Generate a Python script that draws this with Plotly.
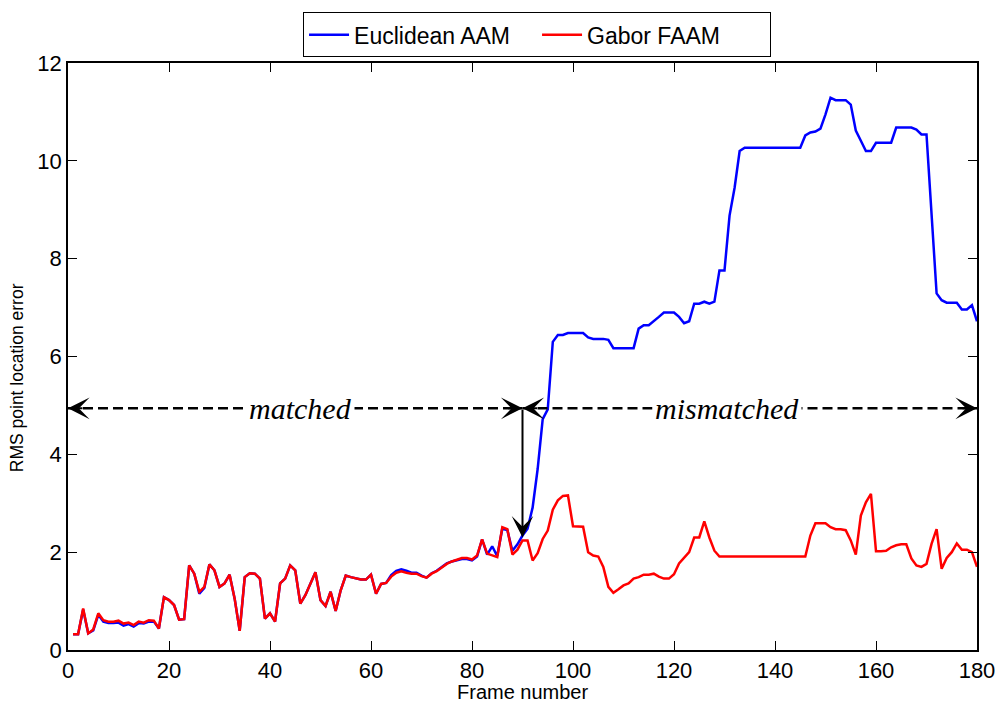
import plotly.graph_objects as go

# Frame indices
frames = list(range(1, 181))

# RMS point location error per frame
euclidean_aam = [
    0.32, 0.32, 0.83, 0.34, 0.40, 0.72, 0.58, 0.55, 0.55, 0.56,
    0.50, 0.53, 0.48, 0.55, 0.54, 0.58, 0.58, 0.44, 1.08, 1.02,
    0.92, 0.62, 0.63, 1.73, 1.56, 1.15, 1.27, 1.75, 1.63, 1.29,
    1.36, 1.54, 1.05, 0.39, 1.49, 1.57, 1.56, 1.46, 0.64, 0.75,
    0.58, 1.36, 1.46, 1.73, 1.63, 0.95, 1.12, 1.35, 1.59, 1.02,
    0.90, 1.19, 0.80, 1.22, 1.52, 1.49, 1.46, 1.44, 1.44, 1.54,
    1.15, 1.35, 1.37, 1.53, 1.62, 1.65, 1.62, 1.58, 1.58, 1.52,
    1.48, 1.57, 1.62, 1.70, 1.77, 1.81, 1.84, 1.86, 1.86, 1.83,
    1.91, 2.26, 1.95, 2.12, 1.92, 2.48, 2.45, 2.03, 2.16, 2.34,
    2.48, 2.91, 3.70, 4.72, 4.92, 6.30, 6.44, 6.44, 6.48, 6.48,
    6.48, 6.48, 6.39, 6.36, 6.36, 6.36, 6.34, 6.17, 6.17, 6.17,
    6.17, 6.17, 6.57, 6.64, 6.64, 6.72, 6.81, 6.90, 6.90, 6.90,
    6.81, 6.68, 6.72, 7.08, 7.08, 7.12, 7.08, 7.12, 7.76, 7.76,
    8.88, 9.45, 10.20, 10.27, 10.27, 10.27, 10.27, 10.27, 10.27, 10.27,
    10.27, 10.27, 10.27, 10.27, 10.27, 10.52, 10.58, 10.60, 10.66, 10.95,
    11.29, 11.24, 11.24, 11.24, 11.15, 10.62, 10.41, 10.20, 10.20, 10.37,
    10.37, 10.37, 10.37, 10.68, 10.68, 10.68, 10.68, 10.64, 10.54, 10.54,
    8.90, 7.29, 7.15, 7.10, 7.10, 7.10, 6.96, 6.96, 7.05, 6.72,
]

gabor_faam = [
    0.32, 0.32, 0.85, 0.34, 0.42, 0.75, 0.61, 0.58, 0.58, 0.60,
    0.54, 0.56, 0.51, 0.58, 0.56, 0.61, 0.60, 0.44, 1.08, 1.02,
    0.92, 0.62, 0.63, 1.73, 1.56, 1.19, 1.29, 1.75, 1.63, 1.29,
    1.36, 1.54, 1.05, 0.39, 1.49, 1.57, 1.56, 1.46, 0.64, 0.75,
    0.58, 1.36, 1.46, 1.73, 1.63, 0.95, 1.12, 1.35, 1.59, 1.02,
    0.90, 1.19, 0.80, 1.22, 1.52, 1.49, 1.46, 1.44, 1.44, 1.54,
    1.15, 1.35, 1.37, 1.50, 1.58, 1.61, 1.58, 1.56, 1.56, 1.51,
    1.48, 1.56, 1.61, 1.68, 1.76, 1.81, 1.85, 1.88, 1.88, 1.85,
    1.93, 2.26, 1.97, 1.93, 1.90, 2.51, 2.47, 1.95, 2.05, 2.24,
    2.24, 1.83, 1.98, 2.27, 2.44, 2.87, 3.06, 3.15, 3.16, 2.53,
    2.53, 2.52, 2.00, 1.93, 1.91, 1.70, 1.29, 1.17, 1.24, 1.32,
    1.36, 1.46, 1.49, 1.54, 1.54, 1.56, 1.50, 1.46, 1.46, 1.55,
    1.77, 1.88, 2.00, 2.30, 2.30, 2.63, 2.30, 2.03, 1.91, 1.91,
    1.91, 1.91, 1.91, 1.91, 1.91, 1.91, 1.91, 1.91, 1.91, 1.91,
    1.91, 1.91, 1.91, 1.91, 1.91, 1.91, 2.34, 2.59, 2.59, 2.59,
    2.51, 2.47, 2.47, 2.45, 2.24, 1.95, 2.75, 3.02, 3.19, 2.02,
    2.02, 2.03, 2.10, 2.14, 2.16, 2.16, 1.87, 1.73, 1.70, 1.76,
    2.17, 2.47, 1.66, 1.88, 2.00, 2.18, 2.05, 2.05, 2.00, 1.70,
]

x_ticks = [0, 20, 40, 60, 80, 100, 120, 140, 160, 180]
y_ticks = [0, 2, 4, 6, 8, 10, 12]

# Split between the matched and mismatched segments
split_frame = 90
arrow_level = 4.94
arrow_tip = 2.30
segment_labels = ["matched", "mismatched"]
label_x = [46, 130.5]

sans = "Liberation Sans, Arial, sans-serif"
serif = "Liberation Serif, Times New Roman, serif"

fig = go.Figure()
fig.add_trace(go.Scatter(x=frames, y=euclidean_aam, mode="lines",
                         name="Euclidean AAM",
                         line=dict(color="#0000ff", width=2.5)))
fig.add_trace(go.Scatter(x=frames, y=gabor_faam, mode="lines",
                         name="Gabor FAAM",
                         line=dict(color="#ff0000", width=2.5)))

# Dashed double arrows marking the two segments
for x0, x1 in [(0, split_frame), (split_frame, 180)]:
    fig.add_shape(type="line", xref="x", yref="y", x0=x0, x1=x1,
                  y0=arrow_level, y1=arrow_level,
                  line=dict(color="black", width=2.5, dash="10px,5px"),
                  layer="above")

# Arrowheads at the ends of each dashed segment
heads = [(0, 16), (split_frame, -16), (split_frame, 16), (180, -16)]
for hx, off in heads:
    fig.add_annotation(x=hx, y=arrow_level, xref="x", yref="y",
                       ax=off, ay=0, text="", showarrow=True,
                       arrowhead=3, arrowsize=1.8, arrowwidth=2,
                       arrowcolor="black")

# Vertical arrow pointing at the split frame on the curves
fig.add_annotation(x=split_frame, y=arrow_tip, xref="x", yref="y",
                   ax=split_frame, ay=arrow_level, axref="x", ayref="y",
                   text="", showarrow=True, arrowhead=3, arrowsize=1.8,
                   arrowwidth=2, arrowcolor="black")

# Segment labels
for lx, lab in zip(label_x, segment_labels):
    fig.add_annotation(x=lx, y=arrow_level, xref="x", yref="y",
                       text=f"<i>{lab}</i>", showarrow=False,
                       font=dict(family=serif, size=30, color="black"),
                       bgcolor="white", borderpad=2)

# Axis titles
fig.add_annotation(text="Frame number", xref="paper", yref="paper",
                   x=0.5, y=0, yshift=-42, xanchor="center", yanchor="middle",
                   showarrow=False,
                   font=dict(family=sans, size=20, color="black"))
fig.add_annotation(text="RMS point location error", xref="paper", yref="paper",
                   x=0, y=0.463, xshift=-51, xanchor="center", yanchor="middle",
                   textangle=-90, showarrow=False,
                   font=dict(family=sans, size=17.5, color="black"))

axis_common = dict(
    showline=True, linecolor="black", linewidth=1.5, mirror="ticks",
    ticks="inside", ticklen=9, tickwidth=1, tickcolor="black",
    showgrid=False, zeroline=False, automargin=False,
    tickfont=dict(family=sans, size=22, color="black"),
)

fig.update_layout(
    width=1001, height=702,
    margin=dict(l=68, r=24, t=60, b=52),
    paper_bgcolor="white", plot_bgcolor="white",
    font=dict(family=sans, color="black"),
    xaxis=dict(range=[0, 180], tickvals=x_ticks, **axis_common),
    yaxis=dict(range=[0, 12], tickvals=y_ticks, **axis_common),
    legend=dict(orientation="h", x=0.516, xanchor="center",
                y=1.0864, yanchor="top", itemwidth=40, entrywidth=178,
                bordercolor="black", borderwidth=1, bgcolor="white",
                font=dict(family=sans, size=23, color="black")),
    showlegend=True,
)

fig.write_html("out.html")
